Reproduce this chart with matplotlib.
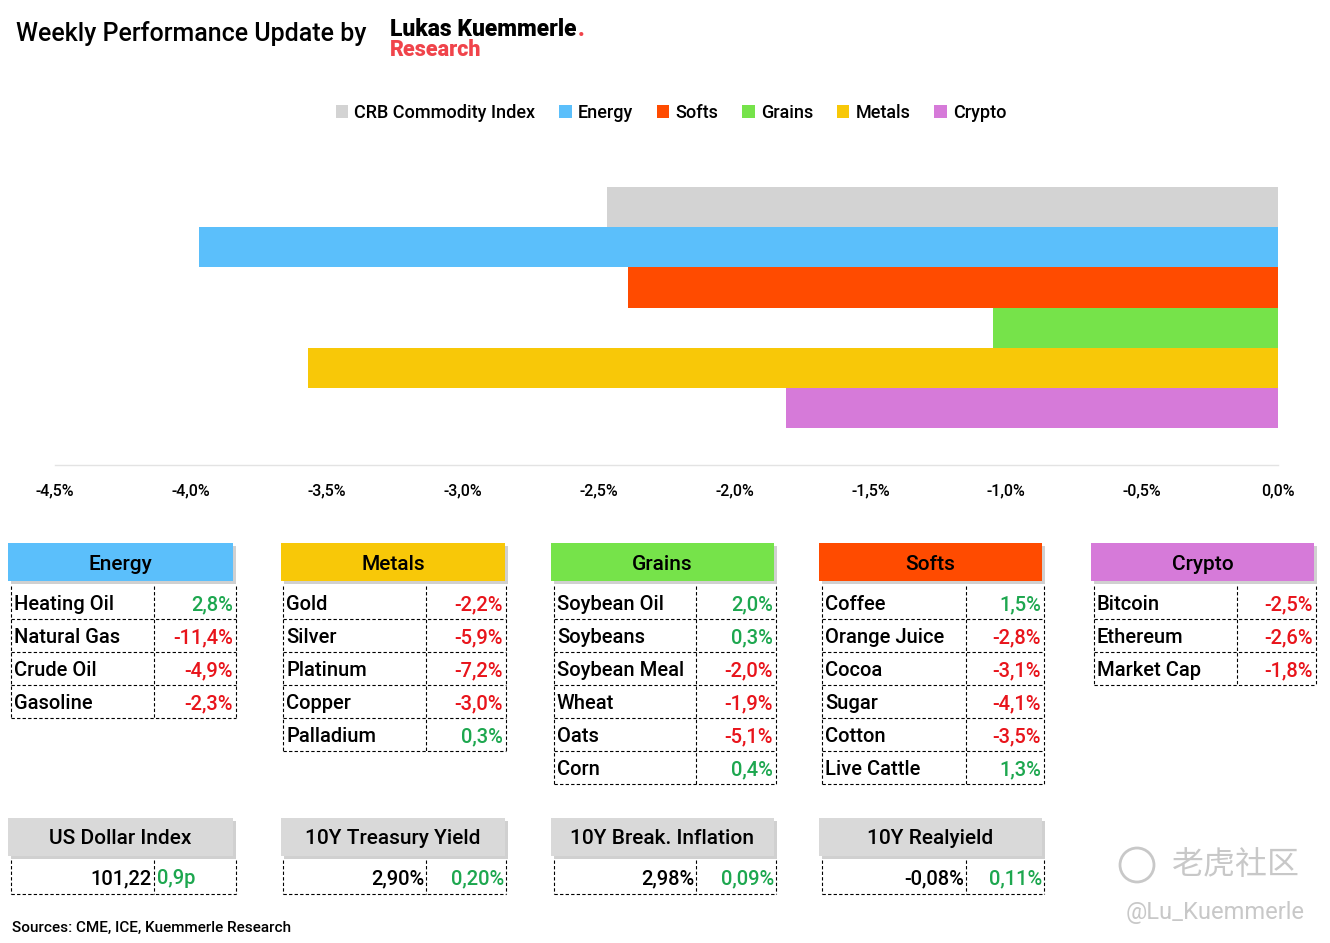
import matplotlib
matplotlib.use("Agg")
import matplotlib.pyplot as plt
from matplotlib.patches import Rectangle, Patch, Circle
from matplotlib.ticker import FuncFormatter

plt.rcParams['font.family'] = ['Roboto', 'DejaVu Sans']

# ---------------- data ----------------
bar_categories = ["CRB Commodity Index", "Energy", "Softs", "Grains", "Metals", "Crypto"]
bar_values = [-2.47, -3.97, -2.39, -1.05, -3.57, -1.81]
bar_colors = ["#D3D3D3", "#5BBFFB", "#FF4B00", "#76E34A", "#F8C808", "#D67AD9"]

x_ticks = [-4.5, -4.0, -3.5, -3.0, -2.5, -2.0, -1.5, -1.0, -0.5, 0.0]

group_names = ["Energy", "Metals", "Grains", "Softs", "Crypto"]
group_colors = ["#5BBFFB", "#F8C808", "#76E34A", "#FF4B00", "#D67AD9"]

energy_names = ["Heating Oil", "Natural Gas", "Crude Oil", "Gasoline"]
energy_values = ["2,8%", "-11,4%", "-4,9%", "-2,3%"]
metals_names = ["Gold", "Silver", "Platinum", "Copper", "Palladium"]
metals_values = ["-2,2%", "-5,9%", "-7,2%", "-3,0%", "0,3%"]
grains_names = ["Soybean Oil", "Soybeans", "Soybean Meal", "Wheat", "Oats", "Corn"]
grains_values = ["2,0%", "0,3%", "-2,0%", "-1,9%", "-5,1%", "0,4%"]
softs_names = ["Coffee", "Orange Juice", "Cocoa", "Sugar", "Cotton", "Live Cattle"]
softs_values = ["1,5%", "-2,8%", "-3,1%", "-4,1%", "-3,5%", "1,3%"]
crypto_names = ["Bitcoin", "Ethereum", "Market Cap"]
crypto_values = ["-2,5%", "-2,6%", "-1,8%"]

macro_names = ["US Dollar Index", "10Y Treasury Yield", "10Y Break. Inflation", "10Y Realyield"]
macro_levels = ["101,22", "2,90%", "2,98%", "-0,08%"]
macro_changes = ["0,9p", "0,20%", "0,09%", "0,11%"]

GREEN = "#1DA74F"
RED = "#E8141B"
FW = "medium"

# ---------------- figure ----------------
W, H = 1330, 943
fig = plt.figure(figsize=(W / 100, H / 100), dpi=100)
fig.patch.set_facecolor("white")

# bar chart axes (pixel geometry converted to fractions)
ax_l, ax_r, ax_t, ax_b = 55, 1278, 150, 465
ax = fig.add_axes([ax_l / W, 1 - ax_b / H, (ax_r - ax_l) / W, (ax_b - ax_t) / H])
ypos = list(range(len(bar_values)))
ax.barh(ypos, bar_values, height=1.0, color=bar_colors)
ax.set_xlim(-4.5, 0.0)
ax.set_ylim(5.5 + 0.92, -0.5 - 0.92)
ax.set_xticks(x_ticks)
ax.xaxis.set_major_formatter(FuncFormatter(lambda v, p: f"{v:.1f}%".replace(".", ",")))
ax.tick_params(axis="x", length=0, pad=13, labelsize=11.5)
for lbl in ax.get_xticklabels():
    lbl.set_fontweight(FW)
ax.set_yticks([])
for s in ["top", "right", "left"]:
    ax.spines[s].set_visible(False)
ax.spines["bottom"].set_color("#E3E3E3")
ax.spines["bottom"].set_linewidth(1)

handles = [Patch(facecolor=c, edgecolor="none") for c in bar_colors]
fig.legend(handles, bar_categories, loc="center", bbox_to_anchor=(671 / W, 1 - 113 / H),
           ncol=6, frameon=False, prop={"size": 13, "weight": FW}, handlelength=0.7,
           handleheight=0.7, handletextpad=0.35, columnspacing=1.3)

# overlay axes in pixel coordinates
ov = fig.add_axes([0, 0, 1, 1], zorder=5)
ov.set_xlim(0, W)
ov.set_ylim(H, 0)
ov.axis("off")
ov.patch.set_alpha(0)

# title
ov.text(16, 34, "Weekly Performance Update by", fontsize=18, fontweight=FW, va="center",
        ha="left", color="black")
t_logo = ov.text(390, 36, "Lukas Kuemmerle", fontsize=16.5, fontweight="black", va="baseline",
                 ha="left", color="black")
ov.annotate(".", xy=(1, 0), xycoords=t_logo, xytext=(1, 0), textcoords="offset points",
            fontsize=16.5, fontweight="black", color="#F0444B", ha="left", va="bottom")
ov.text(390, 56, "Research", fontsize=15.5, fontweight="black", va="baseline", ha="left",
        color="#F0444B")

DASH = (0, (3, 2))


def header(x0, x1, y0, y1, color, label):
    ov.add_patch(Rectangle((x0 + 3, y0 + 3), x1 - x0, y1 - y0, facecolor="#BDBDBD",
                           edgecolor="none", alpha=0.7))
    ov.add_patch(Rectangle((x0, y0), x1 - x0, y1 - y0, facecolor=color, edgecolor="none"))
    ov.text((x0 + x1) / 2, (y0 + y1) / 2 + 2, label, fontsize=15, fontweight=FW,
            ha="center", va="center", color="black")


def frame(x0, xd, x1, y0, nrows, rh):
    yb = y0 + nrows * rh
    for x in (x0, xd, x1):
        ov.plot([x, x], [y0, yb], color="black", lw=0.8, ls=DASH)
    for i in range(1, nrows + 1):
        y = y0 + i * rh
        ov.plot([x0, x1], [y, y], color="black", lw=0.8, ls=DASH)


def vcolor(v):
    return RED if v.startswith("-") else GREEN


# group tables
hx = [(8, 233), (281, 505), (551, 774), (819, 1042), (1091, 1314)]
rx = [(11, 154, 236), (283, 426, 506), (554, 696, 776), (822, 966, 1044), (1094, 1237, 1316)]
names_all = [energy_names, metals_names, grains_names, softs_names, crypto_names]
vals_all = [energy_values, metals_values, grains_values, softs_values, crypto_values]
hy0, hy1 = 543, 581
ry0, rh = 586, 33
for (h0, h1), (x0, xd, x1), gname, gcol, nms, vls in zip(hx, rx, group_names, group_colors, names_all, vals_all):
    header(h0, h1, hy0, hy1, gcol, gname)
    frame(x0, xd, x1, ry0, len(nms), rh)
    for i, (n, v) in enumerate(zip(nms, vls)):
        yc = ry0 + (i + 0.5) * rh + 2
        ov.text(x0 + 3, yc, n, fontsize=14.5, fontweight=FW, ha="left", va="center", color="black")
        ov.text(x1 - 3, yc, v, fontsize=14.5, fontweight=FW, ha="right", va="center", color=vcolor(v))

# macro tables
my0, my1 = 818, 856
mry0, mrh = 860, 34
for k, (name, lev, chg) in enumerate(zip(macro_names, macro_levels, macro_changes)):
    h0, h1 = hx[k]
    x0, xd, x1 = rx[k]
    header(h0, h1, my0, my1, "#D9D9D9", name)
    frame(x0, xd, x1, mry0, 1, mrh)
    yc = mry0 + mrh / 2 + 2
    ov.text(xd - 2, yc, lev, fontsize=14.5, fontweight=FW, ha="right", va="center", color="black")
    if k == 0:
        ov.text(xd + 3, yc, chg, fontsize=14.5, fontweight=FW, ha="left", va="center", color=GREEN)
    else:
        ov.text(x1 - 2, yc, chg, fontsize=14.5, fontweight=FW, ha="right", va="center", color=GREEN)

# sources
ov.text(12, 928, "Sources: CME, ICE, Kuemmerle Research", fontsize=11, fontweight=FW,
        ha="left", va="center", color="black")

# watermark
ov.add_patch(Circle((1137, 865), 17, facecolor="none", edgecolor="#C8C8C8", lw=2))
ov.text(1172, 865, "老虎社区", fontsize=23, ha="left", va="center", color="#C8C8C8",
        family=["Noto Sans CJK SC", "DejaVu Sans"])
ov.text(1305, 913, "@Lu_Kuemmerle", fontsize=17, ha="right", va="center", color="#C8C8C8")

fig.savefig("out.png", dpi=100, facecolor="white")
